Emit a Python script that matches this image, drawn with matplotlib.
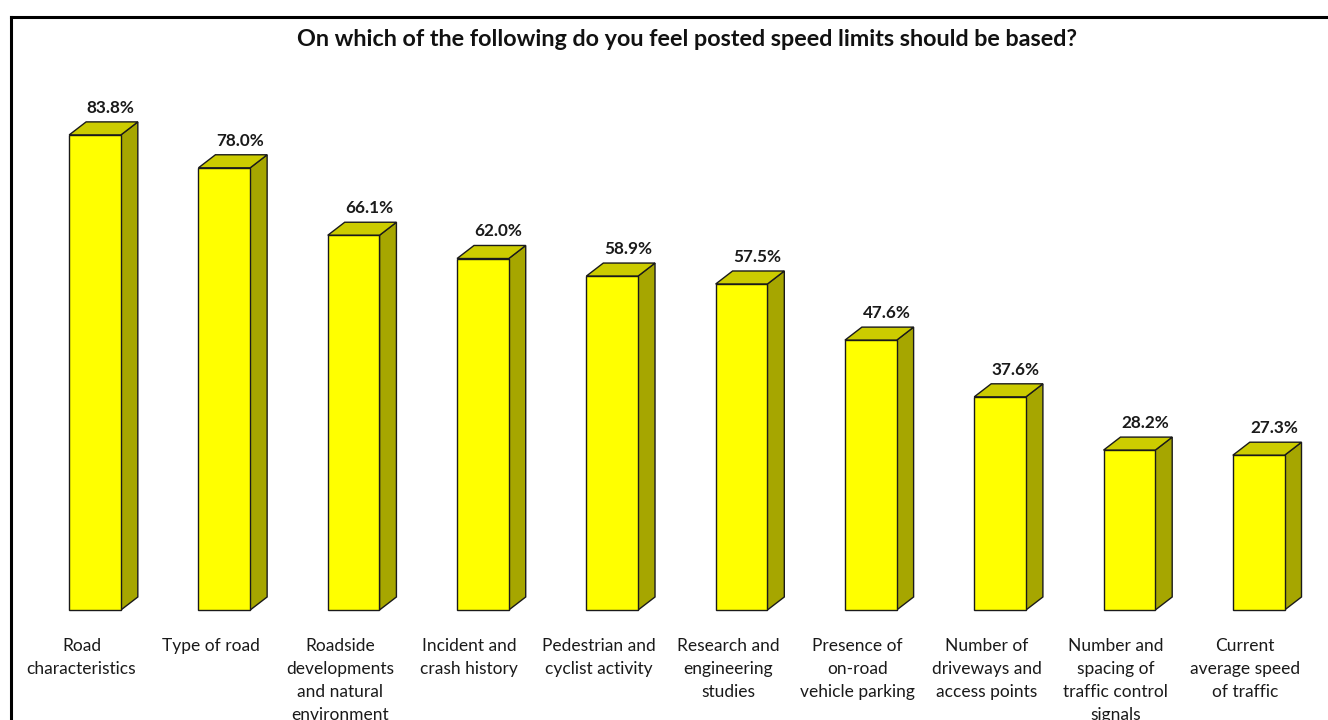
import numpy as np
import matplotlib.pyplot as plt
from matplotlib.patches import Polygon, Rectangle

# datos
categorias = ["Road\ncharacteristics", "Type of road",
              "Roadside\ndevelopments\nand natural\nenvironment",
              "Incident and\ncrash history", "Pedestrian and\ncyclist activity",
              "Research and\nengineering\nstudies", "Presence of\non-road\nvehicle parking",
              "Number of\ndriveways and\naccess points",
              "Number and\nspacing of\ntraffic control\nsignals",
              "Current\naverage speed\nof traffic"]
valores = [83.8, 78.0, 66.1, 62.0, 58.9, 57.5, 47.6, 37.6, 28.2, 27.3]
titulo = "On which of the following do you feel posted speed limits should be based?"

plt.rcParams['font.family'] = ['Lato', 'DejaVu Sans']

fig = plt.figure(figsize=(13.28, 7.2), dpi=100)
ax = fig.add_axes([0, 0, 1, 1])
ax.set_xlim(-0.735, 9.536)
ax.set_ylim(-19.4, 107.6)
ax.axis('off')

w = 0.40    # ancho de la cara frontal
dx = 0.131  # profundidad horizontal
dy = 2.3    # profundidad vertical

frente = '#FFFF00'
tapa = '#CCCC00'
lado = '#A6A600'

for i, v in enumerate(valores):
    x0 = i - w/2
    x1 = i + w/2
    # cara lateral
    ax.add_patch(Polygon([[x1, 0], [x1 + dx, dy], [x1 + dx, v + dy], [x1, v]],
                         closed=True, fc=lado, ec='#1a1a1a', lw=1))
    # tapa
    ax.add_patch(Polygon([[x0, v], [x0 + dx, v + dy], [x1 + dx, v + dy], [x1, v]],
                         closed=True, fc=tapa, ec='#1a1a1a', lw=1))
    # frente
    ax.add_patch(Rectangle((x0, 0), w, v, fc=frente, ec='#1a1a1a', lw=1))
    # etiqueta de valor
    ax.text(i + dx - 0.01, v + dy + 1.1, f"{v:.1f}%", ha='center', va='bottom',
            fontsize=12.3, fontweight='bold', color='#1a1a1a')
    # etiqueta de categoria
    ax.text(i - 0.105, -4.9, categorias[i], ha='center', va='top',
            fontsize=12.5, color='#1a1a1a', linespacing=1.55)

ax.text(0.5176, 0.945, titulo, transform=fig.transFigure, ha='center', va='center',
        fontsize=16.8, fontweight='bold', color='#111111')

# marco
fig.add_artist(plt.Line2D([0.0085, 1.0], [0.976, 0.976], transform=fig.transFigure,
                          color='black', lw=2.2))
fig.add_artist(plt.Line2D([0.0085, 0.0085], [0.0, 0.976], transform=fig.transFigure,
                          color='black', lw=2.2))

fig.savefig('out.png', dpi=100)
